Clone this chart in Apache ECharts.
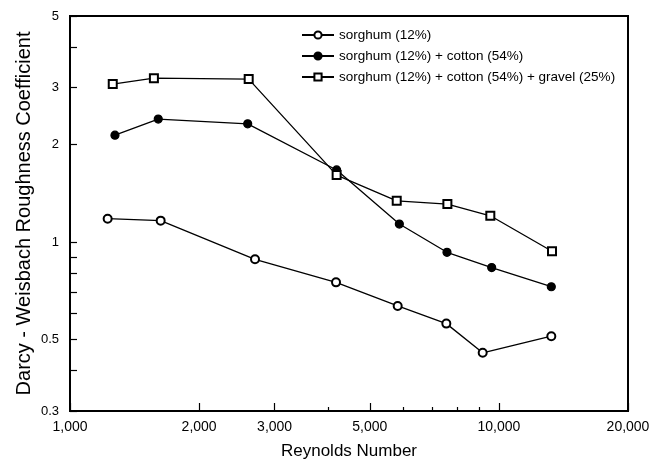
<!DOCTYPE html>
<html>
<head>
<meta charset="utf-8">
<script src="https://cdn.jsdelivr.net/npm/echarts@6/dist/echarts.min.js"></script>
<style>
  html, body { margin: 0; padding: 0; background: #fff; }
  #chart { width: 650px; height: 459px; }
</style>
</head>
<body>
<div id="chart"></div>
<script type="text/javascript">
// Reynolds number vs Darcy-Weisbach roughness
var seriesNames = ['sorghum (12%)', 'sorghum (12%) + cotton (54%)', 'sorghum (12%) + cotton (54%) + gravel (25%)'];

var sorghumRe = [1224, 1627, 2700, 4171, 5808, 7541, 9167, 13250];
var sorghumF  = [1.18, 1.164, 0.884, 0.75, 0.634, 0.559, 0.454, 0.511];

var cottonRe = [1273, 1606, 2596, 4185, 5860, 7568, 9620, 13250];
var cottonF  = [2.14, 2.40, 2.32, 1.67, 1.136, 0.929, 0.833, 0.727];

var gravelRe = [1258, 1569, 2610, 4185, 5778, 7584, 9550, 13300];
var gravelF  = [3.08, 3.21, 3.19, 1.61, 1.34, 1.31, 1.205, 0.936];

var xLabelTicks = [1000, 2000, 3000, 5000, 10000, 20000];
var xMinorTicks = [4000, 6000, 7000, 8000, 9000];
var yLabelTicks = [0.3, 0.5, 1, 2, 3, 5];
var yTicks = [0.3, 0.4, 0.5, 0.6, 0.7, 0.8, 0.9, 1, 2, 3, 4, 5];

// axes are plain value axes in log10 space
function lg(v) { return Math.log10(v); }
function pairs(xs, ys) {
	var out = [];
	for (var i = 0; i < xs.length; i++) out.push([lg(xs[i]), lg(ys[i])]);
	return out;
}
function commas(n) {
	return String(n).replace(/\B(?=(\d{3})+(?!\d))/g, ',');
}

var font = 'Liberation Sans, Arial, sans-serif';
var chart = echarts.init(document.getElementById('chart'));

var lineSeries = function (name, data, symbol) {
	return {
		name: name,
		type: 'line',
		data: data,
		symbol: symbol,
		symbolSize: 8,
		showSymbol: true,
		lineStyle: { color: '#000', width: 1.3 },
		itemStyle: { color: '#000', borderColor: '#000', borderWidth: 1.2 },
		emphasis: { disabled: true },
		animation: false,
		z: 3
	};
};

var option = {
	backgroundColor: '#fff',
	animation: false,
	grid: {
		left: 70, right: 22, top: 16, bottom: 48,
		outerBoundsMode: 'none', containLabel: false,
		show: true, borderColor: '#000', borderWidth: 2, backgroundColor: 'transparent'
	},
	legend: {
		orient: 'vertical',
		left: 296, top: 23,
		itemWidth: 32, itemHeight: 9, itemGap: 7,
		data: seriesNames,
		textStyle: { fontFamily: font, fontSize: 13.5, color: '#000' }
	},
	xAxis: [{
		type: 'value',
		min: lg(1000), max: lg(20000),
		name: 'Reynolds Number',
		nameLocation: 'middle',
		nameGap: 32,
		nameTextStyle: { fontFamily: font, fontSize: 17, color: '#000' },
		axisLine: { show: true, onZero: false, lineStyle: { color: '#000', width: 2 } },
		axisTick: { show: true, inside: true, length: 8, lineStyle: { color: '#000', width: 1.2 },
			customValues: xLabelTicks.map(lg) },
		axisLabel: { fontFamily: font, fontSize: 14, color: '#000', margin: 9,
			customValues: xLabelTicks.map(lg),
			formatter: function (v) { return commas(Math.round(Math.pow(10, v))); } },
		splitLine: { show: false }
	}, {
		type: 'value',
		position: 'bottom',
		min: lg(1000), max: lg(20000),
		axisLine: { show: false, onZero: false },
		axisTick: { show: true, inside: true, length: 4, lineStyle: { color: '#000', width: 1.2 },
			customValues: xMinorTicks.map(lg) },
		axisLabel: { show: false },
		splitLine: { show: false }
	}],
	yAxis: {
		type: 'value',
		min: lg(0.3), max: lg(5),
		name: 'Darcy - Weisbach Roughness Coefficient',
		nameLocation: 'middle',
		nameGap: 36,
		nameMoveOverlap: false,
		nameTextStyle: { fontFamily: font, fontSize: 20, color: '#000' },
		axisLine: { show: true, onZero: false, lineStyle: { color: '#000', width: 2 } },
		axisTick: { show: true, inside: true, length: 7, lineStyle: { color: '#000', width: 1.2 },
			customValues: yTicks.map(lg) },
		axisLabel: { fontFamily: font, fontSize: 13, color: '#000', margin: 11,
			customValues: yLabelTicks.map(lg),
			formatter: function (v) { return String(parseFloat(Math.pow(10, v).toPrecision(2))); } },
		splitLine: { show: false }
	},
	series: [
		lineSeries(seriesNames[0], pairs(sorghumRe, sorghumF), 'emptyCircle'),
		lineSeries(seriesNames[1], pairs(cottonRe, cottonF), 'circle'),
		lineSeries(seriesNames[2], pairs(gravelRe, gravelF), 'emptyRect')
	]
};
chart.setOption(option);
</script>
</body>
</html>
